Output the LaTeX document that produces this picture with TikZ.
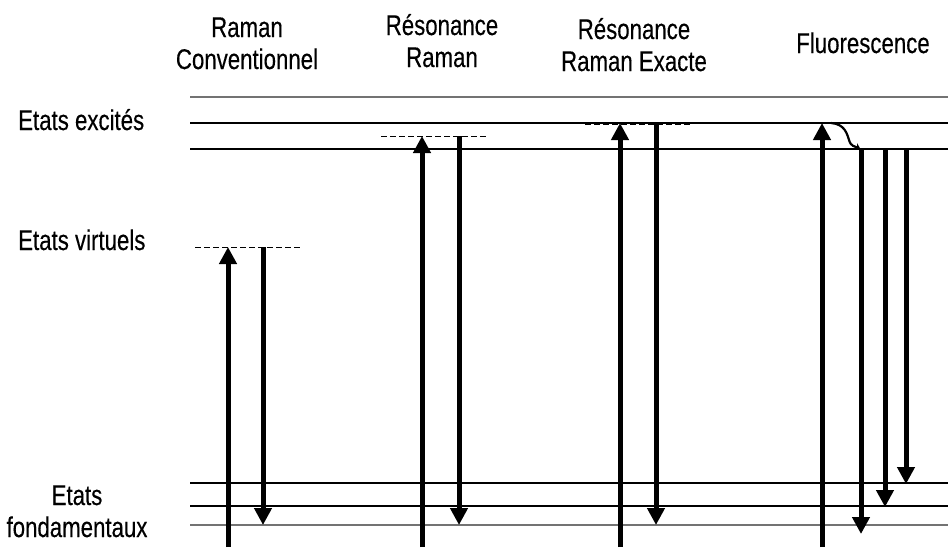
\documentclass[tikz,border=0pt]{standalone}
\usepackage{fontspec}
\setmainfont[FakeStretch=0.78,FakeBold=0.3]{Liberation Sans}
\usetikzlibrary{arrows.meta}
\tikzset{
  level/.style={line width=1.2pt},
  outer level/.style={line width=1.6pt,black!55},
  virt/.style={line width=1pt,dash pattern=on 6pt off 3pt},
  photon/.style={line width=5pt,-{Triangle[length=17pt,width=17pt]}},
  lbl/.style={inner sep=0pt,font=\fontsize{28.5}{32}\selectfont,align=center}
}
\begin{document}
\begin{tikzpicture}[x=1pt,y=-1pt]
\useasboundingbox (0,0) rectangle (948,547);
% titles (base = last line)
\node[lbl,anchor=base] (t1) at (247,69) {Raman\\Conventionnel};
\node[lbl,anchor=base] (t2) at (442,67) {Résonance\\Raman};
\node[lbl,anchor=base] (t3) at (634,71) {Résonance\\Raman Exacte};
\node[lbl,anchor=base] (t4) at (863,53) {Fluorescence};
% states
\node[lbl,anchor=base west] (exc) at (18,130) {Etats excités};
\node[lbl,anchor=base west] (virt) at (18,250) {Etats virtuels};
\node[lbl,anchor=base] (fond) at (77,537) {Etats\\fondamentaux};
% levels
\draw[outer level] (190,97)--(948,97);
\draw[level] (190,123)--(948,123);
\draw[level] (190,149)--(948,149);
\draw[level] (190,483)--(948,483);
\draw[level] (190,506)--(948,506);
\draw[outer level] (190,525)--(948,525);
% virtual levels
\draw[virt] (195,247)--(302,247);
\draw[virt] (381,136)--(488,136);
\draw[virt] (585,124)--(690,124);
% transitions
\coordinate (b1) at (228,547);\coordinate (v1) at (228,247);
\coordinate (s1) at (263,247);\coordinate (g1) at (263,525);
\draw[photon] (b1)--(v1);\draw[photon] (s1)--(g1);
\coordinate (b2) at (422,547);\coordinate (v2) at (422,136);
\coordinate (s2) at (459,136);\coordinate (g2) at (459,525);
\draw[photon] (b2)--(v2);\draw[photon] (s2)--(g2);
\coordinate (b3) at (620,547);\coordinate (v3) at (620,123);
\coordinate (s3) at (656,123);\coordinate (g3) at (656,525);
\draw[photon] (b3)--(v3);\draw[photon] (s3)--(g3);
\coordinate (b4) at (822,547);\coordinate (v4) at (822,123);
\coordinate (r0) at (831,123);\coordinate (r1) at (861,150);
\draw[photon] (b4)--(v4);
\draw[line width=2.2pt,-{Stealth[length=7pt,width=7pt]}] (r0) .. controls (845,124) and (847,134) .. (849,140) .. controls (851,147) and (855,146) .. (r1);
\coordinate (f1) at (861,149);\coordinate (e1) at (861,534);
\coordinate (f2) at (885,149);\coordinate (e2) at (885,507);
\coordinate (f3) at (906,149);\coordinate (e3) at (906,484);
\draw[photon] (f1)--(e1);
\draw[photon] (f2)--(e2);
\draw[photon] (f3)--(e3);
\end{tikzpicture}
\end{document}
